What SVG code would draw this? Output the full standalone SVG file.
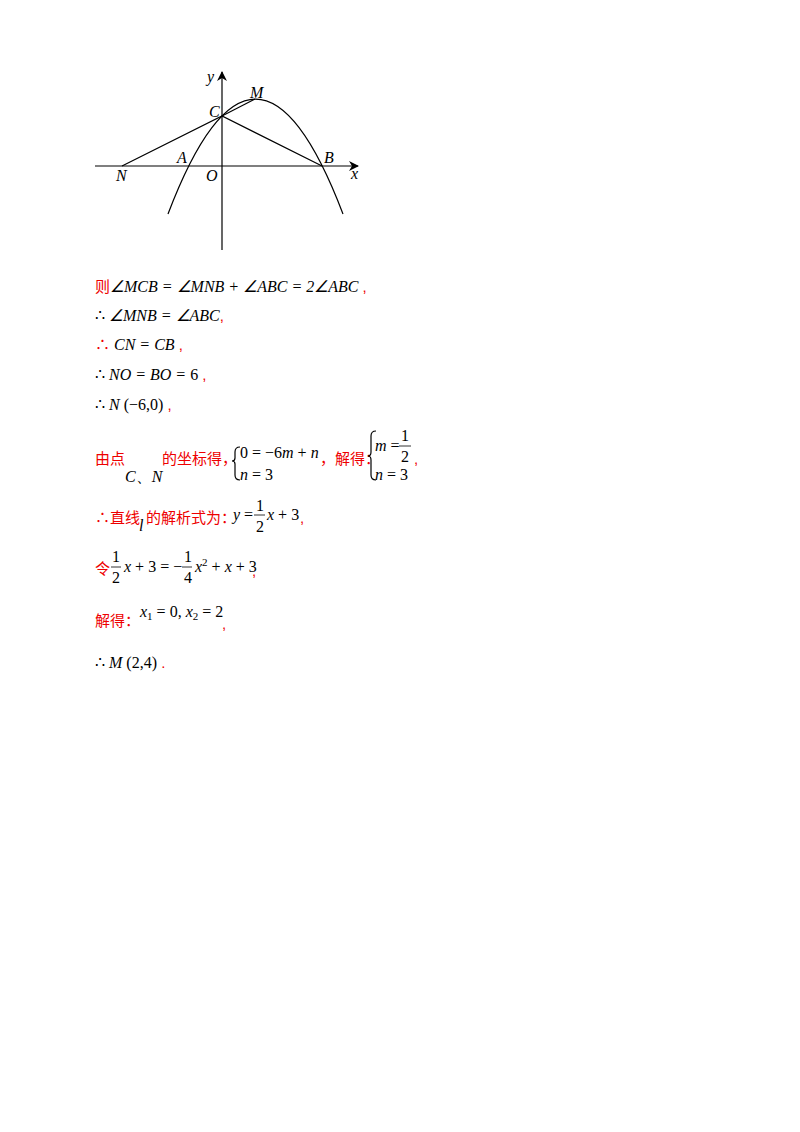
<svg xmlns="http://www.w3.org/2000/svg" width="800" height="1132" viewBox="0 0 800 1132">
<defs>
<marker id="ar" viewBox="0 0 10 10" refX="9" refY="5" markerWidth="10" markerHeight="10" markerUnits="userSpaceOnUse" orient="auto"><path d="M0,0 L10,5 L0,10 L3,5 z" fill="#000"/></marker>
<style>
.l{stroke:#000;stroke-width:1.2;fill:none}
.m{font-family:"Liberation Serif",serif;font-size:16px;fill:#000}
.i{font-style:italic}
.r{font-family:"Liberation Sans","Noto Sans CJK SC",sans-serif;font-size:15px;fill:#e00}
.s{font-size:11px}
</style>
</defs>
<rect width="800" height="1132" fill="#fff"/>
<g id="connectors">
<line class="l" x1="95" y1="166" x2="358" y2="166" marker-end="url(#ar)"/>
<line class="l" x1="222" y1="250" x2="222" y2="72" marker-end="url(#ar)"/>
<path class="l" d="M168,214 Q255.5,-15.7 343,214"/>
<polyline class="l" points="122,166 222,116 322,166"/>
<line class="l" x1="222" y1="116" x2="255" y2="99"/>
</g>
<g id="labels" class="m i">
<text x="207" y="82">y</text>
<text x="250" y="98">M</text>
<text x="209" y="117">C</text>
<text x="177" y="163">A</text>
<text x="324" y="163">B</text>
<text x="116" y="181">N</text>
<text x="206" y="181">O</text>
<text x="351" y="179">x</text>
</g>
<g id="text">
<text x="95" y="292"><tspan class="r">则</tspan><tspan class="m i">∠MCB = ∠MNB + ∠ABC = 2∠ABC</tspan><tspan class="r"> ,</tspan></text>
<text x="95" y="321"><tspan class="m">∴</tspan><tspan class="m i"> ∠MNB = ∠ABC</tspan><tspan class="r">,</tspan></text>
<text x="95" y="350"><tspan class="r">∴</tspan><tspan class="m i"> CN = CB</tspan><tspan class="r"> ,</tspan></text>
<text x="95" y="380"><tspan class="m">∴</tspan><tspan class="m i"> NO = BO = </tspan><tspan class="m">6</tspan><tspan class="r"> ,</tspan></text>
<text x="95" y="410"><tspan class="m">∴</tspan><tspan class="m i"> N</tspan><tspan class="m"> (−6,0)</tspan><tspan class="r"> ,</tspan></text>
<text x="95" y="464" class="r">由点</text>
<text x="125" y="482" class="m"><tspan class="i">C</tspan>、<tspan class="i">N</tspan></text>
<text x="162" y="464" class="r">的坐标得，</text>
<path class="l" d="M240,447 Q235,447 235,452 L235,458 Q235,461 232,461 Q235,461 235,464 L235,475 Q235,480 240,480" stroke-width="1"/>
<text x="240" y="458" class="m">0 = −6<tspan class="i">m</tspan> + <tspan class="i">n</tspan></text>
<text x="320" y="464" class="r">，解得：</text>
<text x="240" y="480" class="m"><tspan class="i">n</tspan> = 3</text>
<path class="l" d="M376,431 Q371,431 371,436 L371,452 Q371,456 368,456 Q371,456 371,460 L371,475 Q371,480 376,480" stroke-width="1"/>
<text x="375" y="451" class="m"><tspan class="i">m</tspan> =</text>
<text x="401" y="441" class="m">1</text>
<line x1="399" y1="446" x2="411" y2="446" stroke="#000" stroke-width="0.8"/>
<text x="401" y="462" class="m">2</text>
<text x="375" y="480" class="m"><tspan class="i">n</tspan> = 3</text>
<text x="414" y="464" class="r">,</text>
<text x="95" y="523" class="r">∴直线</text>
<text x="139" y="531" class="m i">l</text>
<text x="146" y="523" class="r">的解析式为：</text>
<text x="233" y="520" class="m"><tspan class="i">y</tspan> =</text>
<text x="256" y="511" class="m">1</text>
<line x1="254" y1="515" x2="265" y2="515" stroke="#000" stroke-width="0.8"/>
<text x="256" y="532" class="m">2</text>
<text x="267" y="520" class="m"><tspan class="i">x</tspan> + 3</text>
<text x="300" y="523" class="r">,</text>
<text x="95" y="574" class="r">令</text>
<text x="112" y="562" class="m">1</text>
<line x1="111" y1="567" x2="121" y2="567" stroke="#000" stroke-width="0.8"/>
<text x="112" y="583" class="m">2</text>
<text x="124" y="572" class="m"><tspan class="i">x</tspan> + 3 = −</text>
<text x="184" y="562" class="m">1</text>
<line x1="182" y1="567" x2="192" y2="567" stroke="#000" stroke-width="0.8"/>
<text x="184" y="583" class="m">4</text>
<text x="195" y="572" class="m"><tspan class="i">x</tspan><tspan class="s" dy="-6">2</tspan><tspan dy="6"> + </tspan><tspan class="i">x</tspan> + 3</text>
<text x="252" y="576" class="r">,</text>
<text x="95" y="626" class="r">解得：</text>
<text x="140" y="617" class="m"><tspan class="i">x</tspan><tspan class="s" dy="3">1</tspan><tspan dy="-3"> = 0, </tspan><tspan class="i">x</tspan><tspan class="s" dy="3">2</tspan><tspan dy="-3"> = 2</tspan></text>
<text x="222" y="629" class="r">,</text>
<text x="95" y="668"><tspan class="m">∴</tspan><tspan class="m i"> M</tspan><tspan class="m"> (2,4)</tspan><tspan class="r"> .</tspan></text>
</g>
</svg>
